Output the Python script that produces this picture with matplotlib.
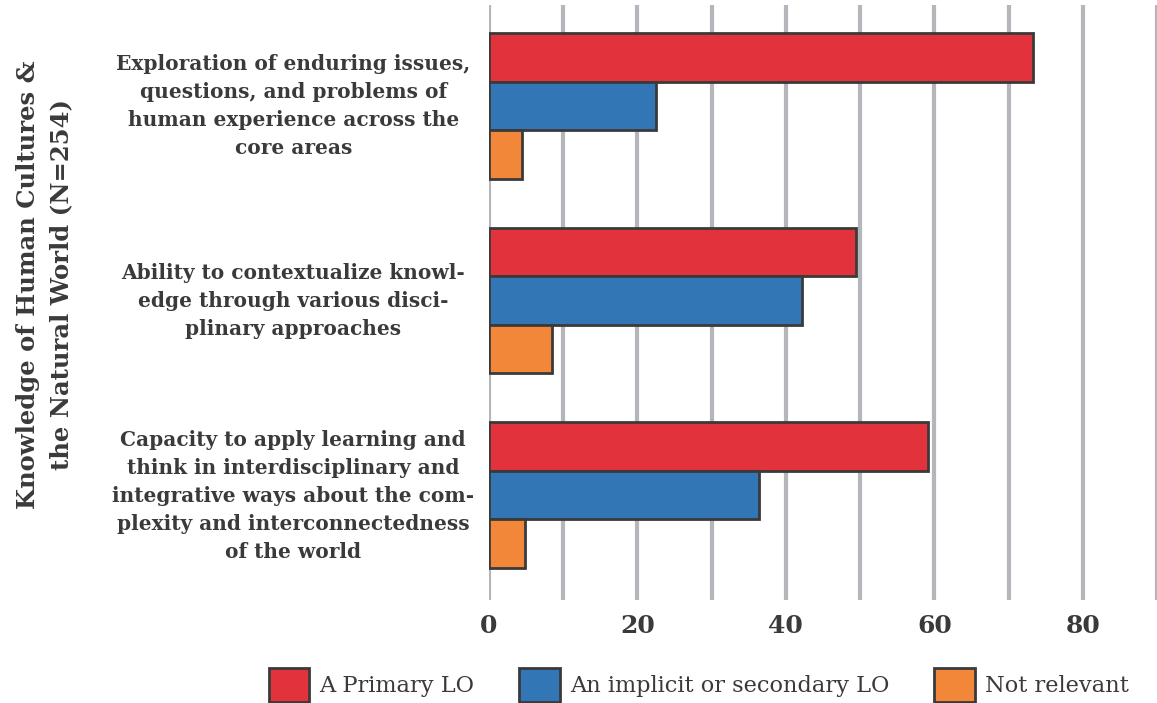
import matplotlib
matplotlib.use("Agg")
import matplotlib.pyplot as plt
from matplotlib.patches import Patch
import numpy as np

categories = [
    "Exploration of enduring issues,\nquestions, and problems of\nhuman experience across the\ncore areas",
    "Ability to contextualize knowl-\nedge through various disci-\nplinary approaches",
    "Capacity to apply learning and\nthink in interdisciplinary and\nintegrative ways about the com-\nplexity and interconnectedness\nof the world",
]
series_names = ["A Primary LO", "An implicit or secondary LO", "Not relevant"]
primary = [73.3, 49.4, 59.2]
secondary = [22.5, 42.2, 36.4]
not_relevant = [4.4, 8.5, 4.8]
xticks = [0, 20, 40, 60, 80]
ylabel = "Knowledge of Human Cultures &\nthe Natural World (N=254)"

colors = ["#e2333c", "#3276b6", "#f2873a"]
edge = "#3a3a3a"
text_color = "#3a3a3a"
serif = ["DejaVu Serif"]

fig = plt.figure(figsize=(11.57, 7.03), dpi=100)
ax = fig.add_axes([0.4226, 0.1465, 0.5774, 0.8464])

y = np.arange(len(categories))
h = 0.25
for i, (vals, c) in enumerate(zip([primary, secondary, not_relevant], colors)):
    ax.barh(y + (i - 1) * h, vals, height=h, color=c, edgecolor=edge,
            linewidth=2, zorder=3)

ax.set_xlim(0, 90)
ax.set_ylim(2.54, -0.52)
ax.set_xticks(xticks)
ax.set_xticks(np.arange(0, 91, 10), minor=True)
ax.xaxis.grid(True, which="both", color="#b5b6bb", linewidth=3, zorder=0)
ax.yaxis.grid(False)
ax.tick_params(axis="x", which="both", length=0, pad=10, labelsize=18,
               colors=text_color)
for lab in ax.get_xticklabels():
    lab.set_fontfamily(serif)
    lab.set_fontweight("bold")
ax.set_yticks([])
for s in ax.spines.values():
    s.set_visible(False)

for yi, cat in zip(y, categories):
    fig.text(0.2535, 1 - (106 + yi * 195) / 703, cat, ha="center", va="center",
             multialignment="center", fontsize=14.5, fontweight="bold",
             family=serif, color=text_color, linespacing=1.5)

fig.text(0.0385, 1 - 285 / 703, ylabel, rotation=90, ha="center", va="center",
         multialignment="center", fontsize=17.5, fontweight="bold", family=serif,
         color=text_color, linespacing=1.45)

handles = [Patch(facecolor=c, edgecolor=edge, linewidth=2) for c in colors]
leg = fig.legend(handles, series_names, loc="center",
                 bbox_to_anchor=(0.604, 1 - 685 / 703), ncol=3, frameon=False,
                 handlelength=1.8, handleheight=1.9, handletextpad=0.45,
                 columnspacing=2.0, borderpad=0,
                 prop={"family": serif, "size": 16.2})
for t in leg.get_texts():
    t.set_color(text_color)

fig.savefig("out.png", dpi=100)
